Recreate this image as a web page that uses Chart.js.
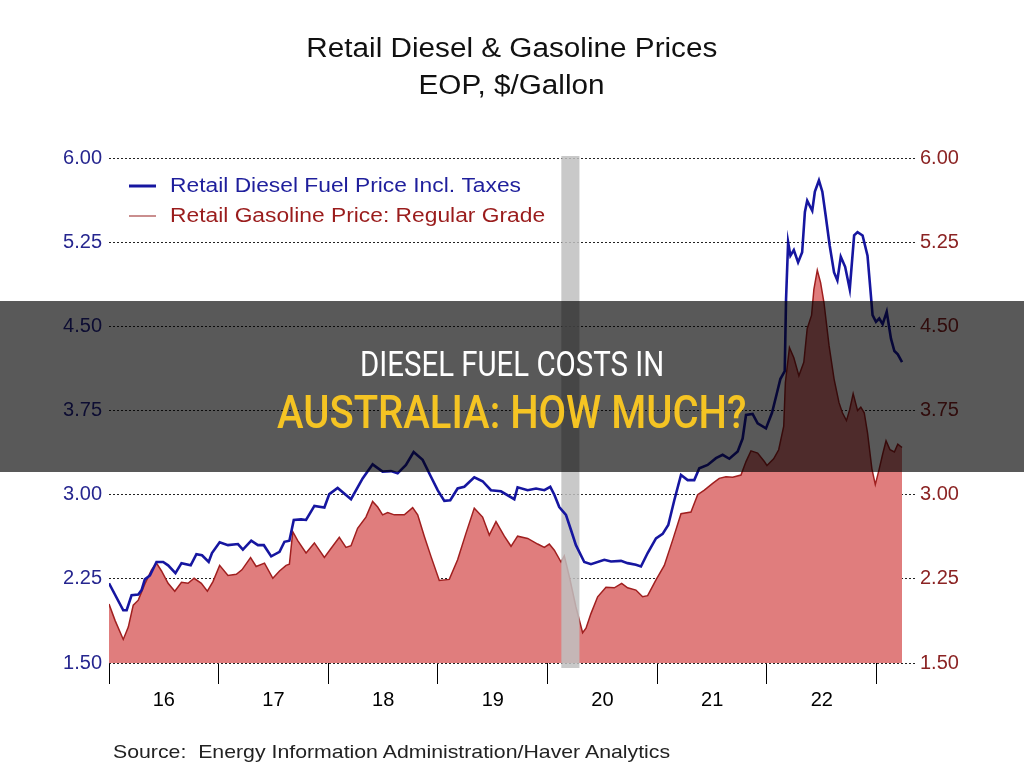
<!DOCTYPE html>
<html>
<head>
<meta charset="utf-8">
<script src="https://cdn.jsdelivr.net/npm/chart.js@4.4.1/dist/chart.umd.min.js"></script>
<style>
  body { margin: 0; background: #fff; }
  #wrap { position: relative; width: 1024px; height: 768px; overflow: hidden; font-family: "Liberation Sans", Arial, sans-serif; }
  #c { position: absolute; left: 0; top: 0; }
  .t { position: absolute; left: 0; width: 1024px; text-align: center; color: #111; font-size: 27px; line-height: 32px; }
  .t span { display: inline-block; transform: scaleX(1.1); }
  #src { position: absolute; left: 113px; top: 740px; font-size: 19px; line-height: 24px; color: #222; transform-origin: 0 0; transform: scaleX(1.12); white-space: pre; }
  #banner { position: absolute; left: 0; top: 301px; width: 1024px; height: 171px; background: rgba(0,0,0,0.65); font-family: Roboto, "Noto Sans", sans-serif; text-align: center; }
  #banner div { position: absolute; left: 0; width: 1024px; }
  #b1 span { display: inline-block; transform: scaleX(0.84); }
  #b2 span { display: inline-block; transform: scaleX(0.87); }
  #b1 { top: 42px; font-size: 35px; line-height: 44px; color: #fff; }
  #b2 { top: 83px; font-size: 46px; line-height: 56px; color: #f5c423; font-weight: 500; }
</style>
</head>
<body>
<div id="wrap">
  <canvas id="c" width="1024" height="768"></canvas>
  <div class="t" style="top:32px"><span>Retail Diesel &amp; Gasoline Prices</span></div>
  <div class="t" style="top:69px"><span>EOP, $/Gallon</span></div>
  <div id="src">Source:  Energy Information Administration/Haver Analytics</div>
  <div id="banner">
    <div id="b1"><span>DIESEL FUEL COSTS IN</span></div>
    <div id="b2"><span>AUSTRALIA: HOW MUCH?</span></div>
  </div>
</div>
<script>
// weekly prices, dates as decimal years
const dieselDates = [
  2016.000, 2016.130, 2016.161, 2016.206, 2016.267, 2016.297, 2016.327, 2016.373, 2016.433, 2016.494,
  2016.539, 2016.606, 2016.661, 2016.745, 2016.797, 2016.848, 2016.909, 2016.939, 2017.009, 2017.085,
  2017.176, 2017.221, 2017.297, 2017.358, 2017.412, 2017.479, 2017.555, 2017.600, 2017.645, 2017.685,
  2017.752, 2017.797, 2017.873, 2017.964, 2018.009, 2018.085, 2018.207, 2018.313, 2018.404, 2018.495,
  2018.571, 2018.632, 2018.708, 2018.778, 2018.860, 2018.936, 2018.997, 2019.058, 2019.112, 2019.179,
  2019.240, 2019.331, 2019.407, 2019.483, 2019.574, 2019.696, 2019.726, 2019.818, 2019.894, 2019.970,
  2020.024, 2020.061, 2020.106, 2020.167, 2020.213, 2020.258, 2020.334, 2020.395, 2020.517, 2020.578,
  2020.669, 2020.729, 2020.805, 2020.851, 2020.912, 2020.988, 2021.049, 2021.100, 2021.155, 2021.216,
  2021.277, 2021.337, 2021.383, 2021.459, 2021.535, 2021.596, 2021.657, 2021.733, 2021.778, 2021.809,
  2021.869, 2021.915, 2021.991, 2022.046, 2022.092, 2022.122, 2022.162, 2022.174, 2022.193, 2022.214,
  2022.245, 2022.284, 2022.321, 2022.346, 2022.367, 2022.413, 2022.437, 2022.474, 2022.505, 2022.535,
  2022.572, 2022.612, 2022.642, 2022.673, 2022.713, 2022.755, 2022.795, 2022.826, 2022.872, 2022.917,
  2022.963, 2022.994, 2023.024, 2023.055, 2023.092, 2023.131, 2023.162, 2023.193, 2023.232
];
const dieselPrices = [
  2.21, 1.97, 1.97, 2.105, 2.11, 2.15, 2.245, 2.28, 2.40, 2.40,
  2.37, 2.30, 2.39, 2.37, 2.47, 2.46, 2.40, 2.48, 2.575, 2.55,
  2.56, 2.51, 2.59, 2.55, 2.55, 2.45, 2.49, 2.58, 2.59, 2.775,
  2.78, 2.775, 2.90, 2.885, 3.005, 3.06, 2.96, 3.145, 3.27, 3.205,
  3.21, 3.19, 3.265, 3.38, 3.31, 3.16, 3.04, 2.945, 2.95, 3.055,
  3.07, 3.155, 3.12, 3.04, 3.03, 2.96, 3.065, 3.04, 3.055, 3.04,
  3.07, 3.00, 2.89, 2.82, 2.685, 2.55, 2.40, 2.38, 2.42, 2.405,
  2.41, 2.39, 2.375, 2.36, 2.48, 2.61, 2.65, 2.73, 2.95, 3.175,
  3.13, 3.13, 3.235, 3.265, 3.325, 3.355, 3.32, 3.385, 3.50, 3.71,
  3.72, 3.635, 3.59, 3.73, 3.91, 4.03, 4.10, 4.74, 5.25, 5.13,
  5.18, 5.07, 5.16, 5.52, 5.62, 5.53, 5.70, 5.80, 5.70, 5.49,
  5.22, 4.98, 4.91, 5.12, 5.03, 4.83, 5.31, 5.34, 5.31, 5.13,
  4.60, 4.54, 4.57, 4.52, 4.63, 4.39, 4.28, 4.25, 4.18
];
const gasDates = [
  2016.000, 2016.055, 2016.130, 2016.176, 2016.221, 2016.267, 2016.327, 2016.388, 2016.433, 2016.479,
  2016.539, 2016.600, 2016.661, 2016.721, 2016.776, 2016.842, 2016.897, 2016.948, 2017.009, 2017.085,
  2017.161, 2017.212, 2017.291, 2017.342, 2017.418, 2017.494, 2017.555, 2017.615, 2017.645, 2017.676,
  2017.721, 2017.797, 2017.873, 2017.964, 2018.024, 2018.100, 2018.161, 2018.207, 2018.267, 2018.343,
  2018.404, 2018.450, 2018.495, 2018.541, 2018.602, 2018.693, 2018.769, 2018.815, 2018.875, 2018.936,
  2019.012, 2019.103, 2019.179, 2019.255, 2019.331, 2019.407, 2019.468, 2019.529, 2019.605, 2019.666,
  2019.726, 2019.818, 2019.909, 2019.970, 2020.015, 2020.061, 2020.122, 2020.152, 2020.198, 2020.258,
  2020.319, 2020.350, 2020.395, 2020.456, 2020.532, 2020.608, 2020.675, 2020.729, 2020.805, 2020.866,
  2020.912, 2020.988, 2021.064, 2021.140, 2021.216, 2021.307, 2021.368, 2021.429, 2021.505, 2021.565,
  2021.626, 2021.687, 2021.763, 2021.809, 2021.854, 2021.915, 2021.976, 2022.000, 2022.061, 2022.107,
  2022.153, 2022.168, 2022.205, 2022.245, 2022.291, 2022.336, 2022.367, 2022.407, 2022.428, 2022.459,
  2022.489, 2022.520, 2022.566, 2022.612, 2022.657, 2022.688, 2022.725, 2022.755, 2022.786, 2022.826,
  2022.856, 2022.887, 2022.917, 2022.957, 2022.988, 2023.024, 2023.055, 2023.086, 2023.122, 2023.162,
  2023.193, 2023.232
];
const gasPrices = [
  2.025, 1.88, 1.71, 1.82, 2.015, 2.06, 2.205, 2.33, 2.39, 2.32,
  2.21, 2.14, 2.22, 2.21, 2.255, 2.21, 2.14, 2.225, 2.37, 2.28,
  2.29, 2.33, 2.44, 2.36, 2.39, 2.255, 2.32, 2.37, 2.38, 2.67,
  2.59, 2.48, 2.57, 2.44, 2.52, 2.62, 2.53, 2.545, 2.70, 2.80,
  2.94, 2.89, 2.82, 2.84, 2.82, 2.82, 2.885, 2.82, 2.63, 2.45,
  2.235, 2.245, 2.42, 2.655, 2.88, 2.80, 2.64, 2.76, 2.63, 2.54,
  2.63, 2.61, 2.56, 2.53, 2.56, 2.505, 2.40, 2.455, 2.27, 2.00,
  1.77, 1.81, 1.94, 2.09, 2.175, 2.17, 2.21, 2.17, 2.15, 2.09,
  2.10, 2.24, 2.37, 2.595, 2.83, 2.845, 3.00, 3.04, 3.10, 3.145,
  3.16, 3.155, 3.175, 3.295, 3.39, 3.37, 3.295, 3.26, 3.32, 3.40,
  3.61, 4.00, 4.31, 4.22, 4.06, 4.18, 4.48, 4.60, 4.83, 5.00,
  4.89, 4.71, 4.33, 4.03, 3.82, 3.73, 3.66, 3.76, 3.90, 3.75,
  3.78, 3.73, 3.55, 3.23, 3.09, 3.23, 3.36, 3.48, 3.40, 3.38,
  3.45, 3.42
];
const yTicks = [1.50, 2.25, 3.00, 3.75, 4.50, 5.25, 6.00];
const yearTicks = [2016, 2017, 2018, 2019, 2020, 2021, 2022, 2023];
const yearLabels = ['16', '17', '18', '19', '20', '21', '22'];
const recession = [2020.125, 2020.29];

const seriesNames = ['Retail Diesel Fuel Price Incl. Taxes', 'Retail Gasoline Price: Regular Grade'];
const dieselColor = '#1616a0';
const gasColor = '#a01f1f';

Chart.defaults.font.family = '"Liberation Sans", Arial, sans-serif';

const toPoints = (xs, ys) => xs.map((x, i) => ({ x: x, y: ys[i] }));

// grey bar for the recession, drawn over the gasoline area but under the diesel line
const recessionBand = {
  id: 'recessionBand',
  afterDatasetDraw(chart, args) {
    if (args.index !== 1) return;
    const { ctx, chartArea } = chart;
    const x = chart.scales.x;
    const x0 = x.getPixelForValue(recession[0]);
    const x1 = x.getPixelForValue(recession[1]);
    ctx.save();
    ctx.fillStyle = 'rgba(192,192,192,0.85)';
    ctx.fillRect(x0, chartArea.top - 2, x1 - x0, chartArea.bottom - chartArea.top + 7);
    ctx.restore();
  }
};

// legend sits inside the plot, top left
const insideLegend = {
  id: 'insideLegend',
  afterDatasetsDraw(chart) {
    const ctx = chart.ctx;
    const rows = [
      { y: 186, color: dieselColor, text: '#1f1f9c', width: 3 },
      { y: 216, color: '#b86868', text: '#9a1c1c', width: 1.5 }
    ];
    ctx.save();
    rows.forEach((r, i) => {
      ctx.strokeStyle = r.color;
      ctx.lineWidth = r.width;
      ctx.beginPath();
      ctx.moveTo(129, r.y);
      ctx.lineTo(156, r.y);
      ctx.stroke();
      ctx.save();
      ctx.translate(170, r.y);
      ctx.scale(1.14, 1);
      ctx.fillStyle = r.text;
      ctx.font = '20px "Liberation Sans", Arial, sans-serif';
      ctx.textBaseline = 'middle';
      ctx.fillText(seriesNames[i], 0, 0);
      ctx.restore();
    });
    ctx.restore();
  }
};

new Chart(document.getElementById('c'), {
  type: 'line',
  data: {
    datasets: [
      {
        label: seriesNames[0],
        data: toPoints(dieselDates, dieselPrices),
        borderColor: dieselColor,
        borderWidth: 2.6,
        pointRadius: 0,
        tension: 0,
        fill: false
      },
      {
        label: seriesNames[1],
        data: toPoints(gasDates, gasPrices),
        borderColor: gasColor,
        borderWidth: 1.5,
        backgroundColor: '#e07d7d',
        pointRadius: 0,
        tension: 0,
        fill: 'start'
      }
    ]
  },
  options: {
    responsive: false,
    devicePixelRatio: 1,
    animation: false,
    layout: { padding: { top: 158, left: 0, right: 0, bottom: 0 } },
    plugins: {
      legend: { display: false },
      tooltip: { enabled: false }
    },
    scales: {
      x: {
        type: 'linear',
        position: 'bottom',
        weight: 0,
        min: 2016,
        max: 2023.35,
        afterBuildTicks: (s) => { s.ticks = yearTicks.map((v) => ({ value: v })); },
        ticks: { autoSkip: false, callback: () => '', font: { size: 1 }, padding: 0 },
        grid: { drawOnChartArea: false, drawTicks: true, tickLength: 21, color: '#000', lineWidth: 1 },
        border: { display: false },
        afterFit: (s) => { s.height = 22; }
      },
      x2: {
        type: 'linear',
        position: 'bottom',
        weight: 1,
        min: 2016,
        max: 2023.35,
        afterBuildTicks: (s) => { s.ticks = yearLabels.map((l, i) => ({ value: yearTicks[i] + 0.5 })); },
        ticks: {
          autoSkip: false,
          maxRotation: 0,
          padding: 3,
          color: '#000',
          font: { size: 20 },
          callback: (v) => yearLabels[Math.floor(v) - 2016]
        },
        grid: { display: false, drawTicks: false },
        border: { display: false },
        afterFit: (s) => { s.height = 83; }
      },
      y: {
        position: 'left',
        min: 1.5,
        max: 6,
        afterBuildTicks: (s) => { s.ticks = yTicks.map((v) => ({ value: v })); },
        ticks: { color: '#26268f', font: { size: 20 }, padding: 7, callback: (v) => v.toFixed(2) },
        grid: { color: '#222', lineWidth: 1, drawTicks: false },
        border: { display: false, dash: [2, 2] },
        afterFit: (s) => { s.width = 109; }
      },
      y2: {
        position: 'right',
        min: 1.5,
        max: 6,
        afterBuildTicks: (s) => { s.ticks = yTicks.map((v) => ({ value: v })); },
        ticks: { color: '#8b2323', font: { size: 20 }, padding: 5, callback: (v) => v.toFixed(2) },
        grid: { drawOnChartArea: false, drawTicks: false },
        border: { display: false },
        afterFit: (s) => { s.width = 109; }
      }
    }
  },
  plugins: [recessionBand, insideLegend]
});
</script>
</body>
</html>
